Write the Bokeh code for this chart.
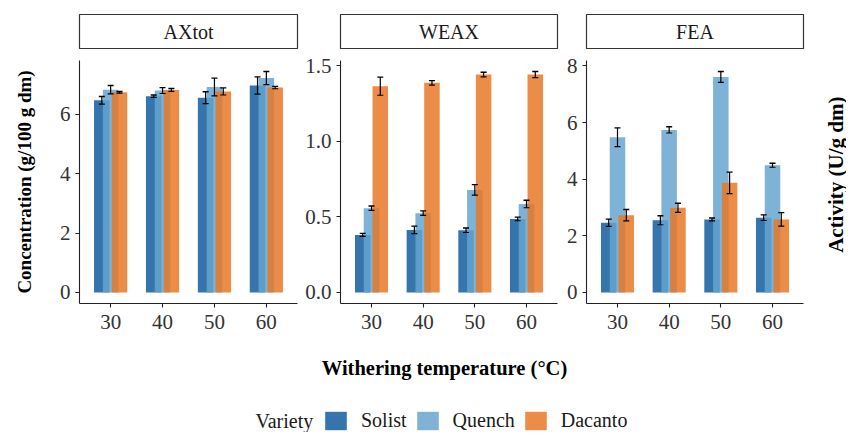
import math
from bokeh.plotting import figure
from bokeh.models import (ColumnDataSource, Range1d, FixedTicker, Whisker, TeeHead,
                          Label, Legend, LegendItem, NumeralTickFormatter, Spacer)
from bokeh.transform import dodge
from bokeh.layouts import column, row
from bokeh.embed import file_html
from bokeh.resources import INLINE

# ---------------- data ----------------
temperatures = [30, 40, 50, 60]
varieties = ["Solist", "Quench", "Dacanto"]
panel_names = ["AXtot", "WEAX", "FEA"]

axtot_solist = [6.47, 6.61, 6.56, 6.97]
axtot_solist_err = [0.13, 0.04, 0.20, 0.29]
axtot_quench = [6.83, 6.80, 6.92, 7.22]
axtot_quench_err = [0.14, 0.10, 0.30, 0.22]
axtot_dacanto = [6.74, 6.82, 6.77, 6.90]
axtot_dacanto_err = [0.03, 0.05, 0.12, 0.04]

weax_solist = [0.381, 0.414, 0.412, 0.487]
weax_solist_err = [0.010, 0.025, 0.015, 0.012]
weax_quench = [0.558, 0.525, 0.679, 0.586]
weax_quench_err = [0.015, 0.015, 0.035, 0.025]
weax_dacanto = [1.366, 1.388, 1.443, 1.443]
weax_dacanto_err = [0.060, 0.015, 0.015, 0.020]

fea_solist = [2.46, 2.55, 2.58, 2.64]
fea_solist_err = [0.13, 0.16, 0.05, 0.10]
fea_quench = [5.48, 5.74, 7.61, 4.49]
fea_quench_err = [0.33, 0.11, 0.19, 0.07]
fea_dacanto = [2.73, 2.99, 3.87, 2.58]
fea_dacanto_err = [0.20, 0.16, 0.38, 0.24]

axtot_ticks = [0, 2, 4, 6]
weax_ticks = [0, 0.5, 1.0, 1.5]
fea_ticks = [0, 2, 4, 6, 8]

y_label_left = "Concentration (g/100 g dm)"
y_label_right = "Activity (U/g dm)"
x_label = "Withering temperature (°C)"
legend_title = "Variety"

# ---------------- style ----------------
COLORS = ["#0F599C", "#65A4CF", "#E77625"]
ALPHA = 0.84
OFFSETS = [-1.7, 0.0, 1.7]
BAR_W = 3.0
FONT = "Liberation Serif"
FS = "20px"
TICK_FS = "21px"
AX_COL = "#222222"
TXT_COL = "#333333"


def style_axes(p, fmt=None):
    for ax in (p.xaxis, p.yaxis):
        ax.axis_line_color = AX_COL
        ax.axis_line_width = 1.1
        ax.major_tick_line_color = AX_COL
        ax.major_tick_line_width = 1.1
        ax.major_tick_out = 4
        ax.major_tick_in = 0
        ax.minor_tick_line_color = None
        ax.major_label_text_font = FONT
        ax.major_label_text_font_size = TICK_FS
        ax.major_label_text_color = TXT_COL
    p.xaxis.major_label_standoff = 7
    p.yaxis.major_label_standoff = 5
    p.xgrid.visible = False
    p.ygrid.visible = False
    p.outline_line_color = None
    if fmt:
        p.yaxis.formatter = NumeralTickFormatter(format=fmt)


def make_panel(series, errors, ticks, fmt, left, right, width, ylabel=None):
    ymax = max(max(v + e for v, e in zip(vals, es)) for vals, es in zip(series, errors))
    p = figure(width=width, height=290, x_range=Range1d(24, 66),
               y_range=Range1d(-0.05 * ymax, 1.05 * ymax),
               output_backend="svg", toolbar_location=None,
               min_border_left=left, min_border_right=right,
               min_border_top=10, min_border_bottom=37,
               background_fill_color="white", border_fill_color="white")
    style_axes(p, fmt)
    p.xaxis.ticker = FixedTicker(ticks=temperatures)
    p.yaxis.ticker = FixedTicker(ticks=ticks)
    sources = []
    for vals, es, off, col in zip(series, errors, OFFSETS, COLORS):
        src = ColumnDataSource(dict(x=temperatures, top=vals,
                                    upper=[v + e for v, e in zip(vals, es)],
                                    lower=[v - e for v, e in zip(vals, es)]))
        sources.append((src, off))
        p.vbar(x=dodge("x", off), top="top", bottom=0, width=BAR_W, source=src,
               fill_color=col, fill_alpha=ALPHA, line_color=None)
    for src, off in sources:
        w = Whisker(base=dodge("x", off), upper="upper", lower="lower", source=src,
                    line_color="black", line_width=1.2, level="overlay",
                    upper_head=TeeHead(size=6, line_color="black", line_width=1.4),
                    lower_head=TeeHead(size=6, line_color="black", line_width=1.2))
        p.add_layout(w)
    if ylabel:
        p.yaxis.axis_label = ylabel
        p.yaxis.axis_label_text_font = FONT
        p.yaxis.axis_label_text_font_size = "19px"
        p.yaxis.axis_label_text_font_style = "bold"
        p.yaxis.axis_label_text_color = "black"
        p.yaxis.axis_label_standoff = 22
    return p


def make_strip(text, left, right, width, top=6):
    s = figure(width=width, height=34 + top + 2, x_range=Range1d(0, 1), y_range=Range1d(0, 1),
               output_backend="svg", toolbar_location=None,
               min_border_left=left, min_border_right=right,
               min_border_top=top, min_border_bottom=2)
    s.axis.visible = False
    s.xgrid.visible = False
    s.ygrid.visible = False
    s.outline_line_color = "#333333"
    s.outline_line_width = 1.2
    s.add_layout(Label(x=0.5, y=0.5, text=text, text_align="center",
                       text_baseline="middle", text_font=FONT,
                       text_font_size=FS, text_color="#1a1a1a"))
    return s


p1 = make_panel([axtot_solist, axtot_quench, axtot_dacanto],
                [axtot_solist_err, axtot_quench_err, axtot_dacanto_err],
                axtot_ticks, None, 79, 3, 300, ylabel=y_label_left)
p2 = make_panel([weax_solist, weax_quench, weax_dacanto],
                [weax_solist_err, weax_quench_err, weax_dacanto_err],
                weax_ticks, "0.0", 40, 3, 260)
p3 = make_panel([fea_solist, fea_quench, fea_dacanto],
                [fea_solist_err, fea_quench_err, fea_dacanto_err],
                fea_ticks, None, 26, 3, 246)

s1 = make_strip(panel_names[0], 79, 3, 300, top=14)
s2 = make_strip(panel_names[1], 40, 3, 260, top=14)
s3 = make_strip(panel_names[2], 26, 3, 246, top=14)

# right-hand axis title
r = figure(width=40, height=290, x_range=Range1d(0, 1), y_range=Range1d(0, 1),
           output_backend="svg", toolbar_location=None,
           min_border_left=0, min_border_right=0, min_border_top=0, min_border_bottom=0)
r.axis.visible = False
r.xgrid.visible = False
r.ygrid.visible = False
r.outline_line_color = None
r.add_layout(Label(x=0.725, y=0.53, text=y_label_right, angle=math.pi / 2,
                   text_align="center", text_baseline="middle", text_font=FONT,
                   text_font_size="21px", text_font_style="bold", text_color="black"))

# bottom: x title + legend
b = figure(width=846, height=92, x_range=Range1d(0, 846), y_range=Range1d(0, 92),
           output_backend="svg", toolbar_location=None,
           min_border_left=0, min_border_right=0, min_border_top=0, min_border_bottom=0)
b.axis.visible = False
b.xgrid.visible = False
b.ygrid.visible = False
b.outline_line_color = None
b.add_layout(Label(x=444, y=65, text=x_label, text_align="center",
                   text_baseline="middle", text_font=FONT, text_font_size="20.5px",
                   text_font_style="bold", text_color="black"))
b.add_layout(Label(x=255, y=12, text=legend_title, text_align="left",
                   text_baseline="middle", text_font=FONT, text_font_size=FS,
                   text_color="#1a1a1a"))
items = []
for name, col in zip(varieties, COLORS):
    rr = b.vbar(x=[-10000], top=[0], bottom=[0], width=1, fill_color=col,
                fill_alpha=ALPHA, line_color=None)
    items.append(LegendItem(label=name, renderers=[rr]))
leg = Legend(items=items, orientation="horizontal", location=(322, 0),
             glyph_width=27, glyph_height=23, label_height=23, label_standoff=12,
             spacing=7, padding=0, margin=0, border_line_color=None,
             background_fill_alpha=0, label_text_font=FONT, label_text_font_size=FS,
             label_text_color="#1a1a1a")
b.add_layout(leg, "center")

layout = column(row(s1, s2, s3, Spacer(width=40, height=50)),
                row(p1, p2, p3, r),
                b)

open("out.html", "w").write(file_html(layout, INLINE))
